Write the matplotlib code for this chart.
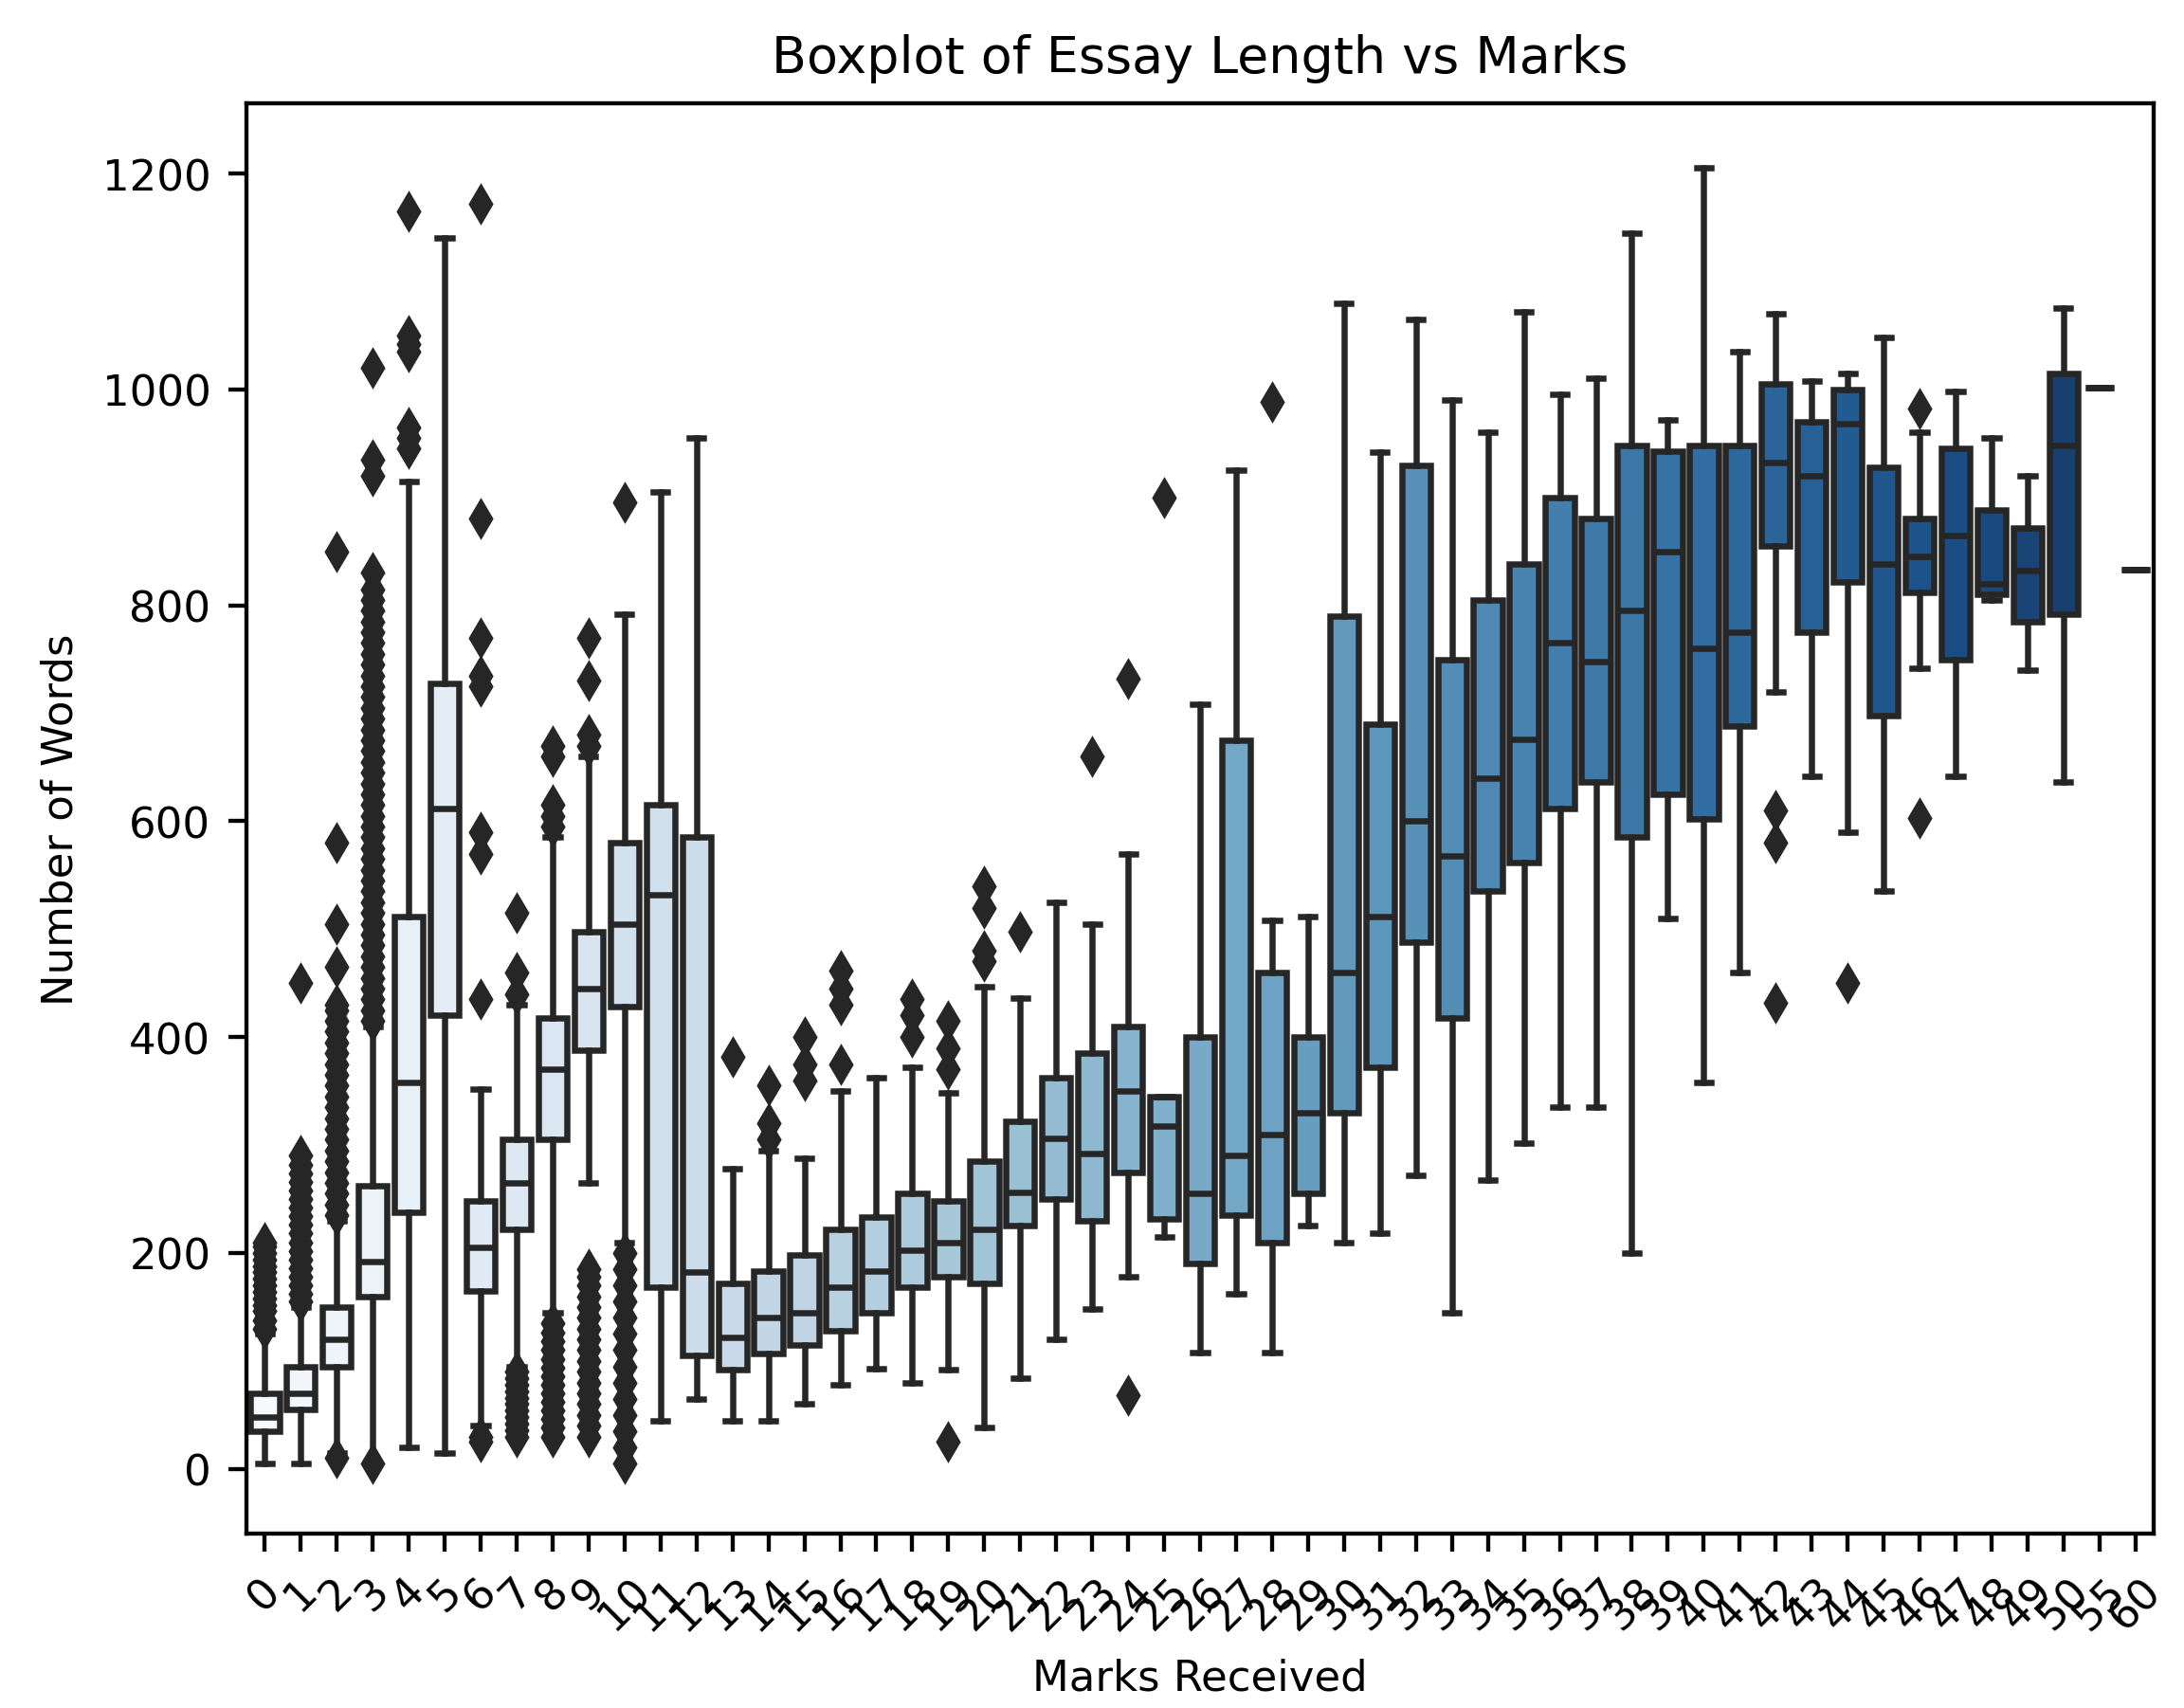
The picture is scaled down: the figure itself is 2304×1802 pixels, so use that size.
import matplotlib
matplotlib.use("Agg")
import matplotlib.pyplot as plt
import seaborn as sns

marks = [str(i) for i in range(51)] + ["55", "60"]
q1 = [35,55,95,160,238,420,165,222,305,388,428,168,105,92,107,115,128,145,168,178,172,225,250,230,275,232,190,235,210,255,
      330,372,488,418,535,562,612,636,585,625,602,688,855,775,822,698,812,750,810,785,792,1002,833]
med = [48,70,120,192,358,612,205,265,370,445,505,532,182,122,140,145,168,183,203,210,222,256,306,292,350,318,255,290,310,330,
       460,512,600,568,640,676,765,748,795,850,760,775,932,920,968,838,845,865,820,832,948,1002,833]
q3 = [70,95,150,262,512,728,248,305,418,498,580,615,585,172,183,198,222,233,255,248,285,322,362,385,410,345,400,675,460,400,
      790,690,930,750,805,838,900,880,948,943,948,948,1005,970,1000,928,880,945,888,872,1015,1002,833]
wlo = [5,5,15,5,20,15,40,95,145,265,210,45,65,45,45,60,78,93,80,92,38,84,120,148,178,215,108,162,108,225,
       210,218,272,145,268,302,335,335,200,510,358,460,720,642,590,535,742,642,805,740,636,1002,833]
whi = [125,150,230,410,915,1140,352,430,585,660,792,905,955,278,295,288,350,362,372,348,447,436,525,505,570,345,708,925,508,512,
       1080,942,1065,990,960,1072,995,1010,1145,972,1205,1035,1070,1008,1015,1048,960,998,955,920,1075,1002,833]
fliers = {
    0: [130,138,146,152,158,164,170,176,182,188,194,200,206,210],
    1: [155,162,170,178,186,194,202,210,218,226,234,242,250,258,266,274,282,290,450],
    2: [10,235,245,255,265,275,285,295,305,315,325,335,345,355,365,375,385,395,405,415,425,430,465,505,580,850],
    3: [5,415,425,435,445,455,465,475,485,495,505,515,525,535,545,555,565,575,585,595,605,615,625,635,645,655,665,675,
        685,695,705,715,725,735,745,755,765,775,785,795,805,815,830,920,935,1020],
    4: [945,955,965,1035,1042,1050,1165],
    6: [25,30,435,570,590,725,735,770,880,1172],
    7: [30,36,42,48,54,60,66,72,78,84,90,440,460,515],
    8: [30,38,46,54,62,70,78,86,94,102,110,118,126,135,595,605,615,660,670],
    9: [30,40,50,60,70,80,90,100,110,120,130,140,150,160,170,178,185,670,680,730,770],
    10: [5,20,35,50,65,80,95,110,125,140,155,170,185,200,895],
    13: [382], 14: [305,320,355], 15: [360,375,400], 16: [375,430,445,462],
    18: [400,420,435], 19: [25,370,390,415], 20: [470,480,520,540], 21: [498],
    23: [660], 24: [68,732], 25: [900], 28: [988],
    42: [432,580,610], 44: [450], 46: [603,982],
}

plt.rcParams["font.size"] = 8.3
fig = plt.figure(figsize=(2304/390, 1803/390), dpi=390)
ax = fig.add_axes([0.113, 0.102, 0.873, 0.837])
pal = [sns.desaturate(c, 0.75) for c in sns.color_palette("Blues", len(marks))]
ec = "#262626"
lw = 1.2
stats = []
for i, m in enumerate(marks):
    stats.append(dict(q1=q1[i], med=med[i], q3=q3[i], whislo=wlo[i], whishi=whi[i],
                      fliers=fliers.get(i, []), label=m))
bp = ax.bxp(stats, positions=range(len(marks)), widths=0.8, patch_artist=True,
            boxprops=dict(edgecolor=ec, linewidth=lw),
            medianprops=dict(color=ec, linewidth=lw),
            whiskerprops=dict(color=ec, linewidth=lw),
            capprops=dict(color=ec, linewidth=lw),
            flierprops=dict(marker="d", markerfacecolor=ec, markeredgecolor=ec, markersize=4.5))
for patch, c in zip(bp["boxes"], pal):
    patch.set_facecolor(c)
ax.set_xlim(-0.5, len(marks) - 0.5)
ax.set_ylim(-60, 1265)
ax.set_yticks([0, 200, 400, 600, 800, 1000, 1200])
ax.set_xticks(range(len(marks)))
ax.set_xticklabels(marks, rotation=45)
ax.set_title("Boxplot of Essay Length vs Marks")
ax.set_xlabel("Marks Received")
ax.set_ylabel("Number of Words")
fig.savefig("out.png", dpi=390)
